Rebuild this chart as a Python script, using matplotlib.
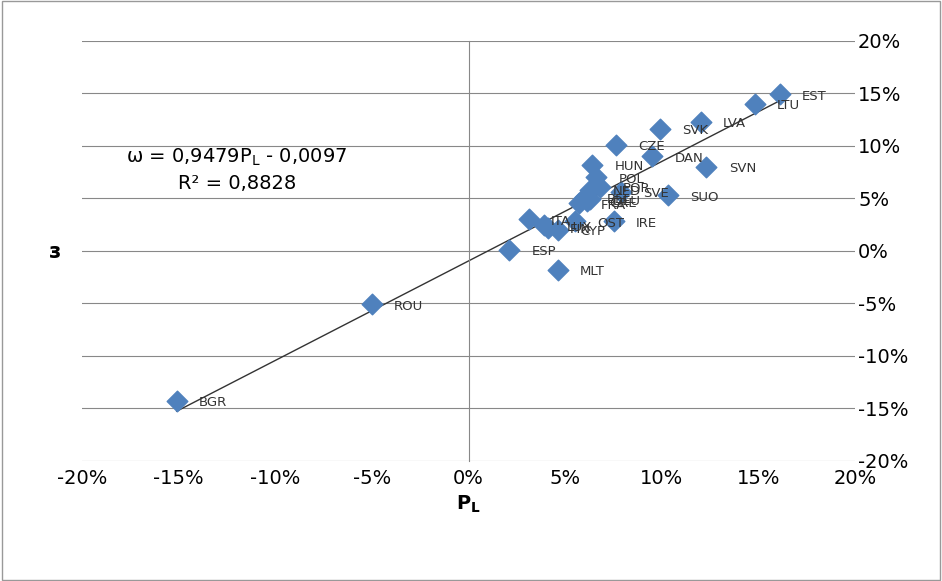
import matplotlib
matplotlib.use('Agg')
import matplotlib.pyplot as plt
import numpy as np
from matplotlib.ticker import FuncFormatter

labels = ['BGR', 'ROU', 'ESP', 'MLT', 'LTU', 'EST', 'LVA', 'SVK', 'CZE', 'DAN', 'SVN', 'SUO',
          'HUN', 'POL', 'NED', 'POR', 'SVE', 'BEL', 'DEU', 'GRE', 'FRA', 'ITA', 'LUX', 'FIN',
          'CYP', 'OST', 'IRE']
x = np.array([-15.1, -5.0, 2.1, 4.6, 14.8, 16.1, 12.0, 9.9, 7.6, 9.5, 12.3, 10.3,
              6.4, 6.6, 6.3, 6.8, 7.9, 6.0, 6.3, 6.1, 5.7, 3.1, 3.9, 4.1,
              4.6, 5.5, 7.5]) / 100
y = np.array([-14.3, -5.1, 0.1, -1.8, 14.0, 14.9, 12.3, 11.6, 10.1, 9.0, 8.0, 5.3,
              8.2, 7.0, 5.8, 6.1, 5.6, 5.1, 4.9, 4.7, 4.5, 3.0, 2.4, 2.2,
              2.0, 2.8, 2.8]) / 100
slope, icpt = 0.9479, -0.0097

fig, ax = plt.subplots(figsize=(9.42, 5.81), dpi=100)
fig.subplots_adjust(left=0.087, right=0.908, top=0.93, bottom=0.207)
ax.set_xlim(-0.2, 0.2)
ax.set_ylim(-0.2, 0.2)
ax.set_yticks(np.arange(-0.2, 0.21, 0.05))
ax.set_xticks(np.arange(-0.2, 0.21, 0.05))
pct = FuncFormatter(lambda v, p: f'{round(v*100):d}%')
ax.xaxis.set_major_formatter(pct)
ax.yaxis.set_major_formatter(pct)
ax.yaxis.tick_right()
ax.grid(axis='y', color='#888888', lw=0.8)
for s in ['top', 'right', 'bottom']:
    ax.spines[s].set_visible(False)
ax.spines['left'].set_position(('data', 0))
ax.spines['left'].set_color('#888888')
ax.tick_params(axis='y', length=0, labelsize=14, pad=2)
ax.tick_params(axis='x', length=0, labelsize=14, pad=6)
ax.set_axisbelow(True)

xl = np.array([-0.151, 0.161])
ax.plot(xl, slope * xl + icpt, color='#333333', lw=1)
ax.scatter(x, y, marker='D', s=110, color='#4F81BD', zorder=3)
for lb, xi, yi in zip(labels, x, y):
    ax.annotate(lb, (xi, yi), xytext=(16, -4), textcoords='offset points', fontsize=9.5, color='#333333')

ax.text(-0.12, 0.077, 'ω = 0,9479P$_\\mathregular{L}$ - 0,0097\nR² = 0,8828', fontsize=14,
        ha='center', va='center', linespacing=1.4)
ax.set_xlabel('P$_\\mathregular{L}$', fontsize=14, fontweight='bold')
fig.text(0.058, 0.567, 'з', fontsize=15, fontweight='bold', ha='center', va='center')
fig.patches.append(plt.Rectangle((0.002, 0.002), 0.996, 0.996, transform=fig.transFigure,
                                 fill=False, ec='#999999', lw=1))
fig.savefig('out.png')
